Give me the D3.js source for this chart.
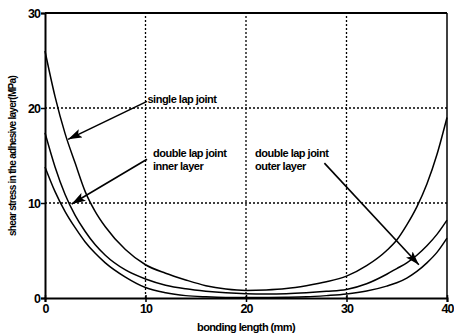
<!DOCTYPE html>
<html>
<head>
<meta charset="utf-8">
<script src="https://cdn.jsdelivr.net/npm/d3@7"></script>
<style>
  body { margin: 0; background: #fff; }
  text { font-family: "Liberation Sans", Arial, sans-serif; fill: #000; }
</style>
</head>
<body>
<div id="chart"></div>
<script>
// bonding length (mm) sample positions
const bondingLength = [0, 1, 2, 3, 4, 5, 6, 8, 10, 12, 14, 16, 18, 20, 22, 24, 26, 28, 30, 32, 34, 35, 36, 37, 38, 39, 40];
// shear stress (MPa)
const singleLap = [26.0, 21.2, 17.3, 14.2, 11.2, 9.1, 7.5, 5.1, 3.5, 2.6, 1.9, 1.3, 0.95, 0.8, 0.85, 1.0, 1.3, 1.7, 2.3, 3.4, 5.0, 6.1, 7.7, 9.6, 12.0, 15.1, 19.0];
const innerLayer = [17.4, 13.8, 10.9, 8.7, 7.0, 5.6, 4.5, 2.95, 2.0, 1.35, 0.97, 0.72, 0.55, 0.45, 0.42, 0.45, 0.55, 0.7, 0.9, 1.5, 2.5, 3.1, 3.7, 4.5, 5.5, 6.7, 8.2];
const outerLayer = [13.8, 11.2, 9.1, 7.4, 5.9, 4.7, 3.7, 2.2, 1.1, 0.55, 0.25, 0.12, 0.05, 0.04, 0.05, 0.07, 0.12, 0.25, 0.42, 0.73, 1.25, 1.6, 2.1, 2.8, 3.7, 4.8, 6.3];

const xTicks = [0, 10, 20, 30, 40];
const yTicks = [0, 10, 20, 30];

// labels + arrows, in data units: [x, y] text anchor, arrow from -> to
const labels = [
  {lines: ["single lap joint"], at: [10.2, 20.5], from: [10.15, 20.7], to: [2.3, 16.7]},
  {lines: ["double lap joint", "inner layer"], at: [10.75, 14.8], from: [10.15, 14.6], to: [2.65, 9.9]},
  {lines: ["double lap joint", "outer layer"], at: [20.9, 14.8], from: [27.8, 14.2], to: [37.2, 3.5]}
];

const width = 454, height = 335;

const svg = d3.select("#chart").append("svg")
  .attr("width", width)
  .attr("height", height);

const x = d3.scaleLinear().domain([0, 40]).range([45, 447]);
const y = d3.scaleLinear().domain([0, 30]).range([298, 13]);

// dotted grid
svg.append("g")
  .selectAll("line")
  .data([10, 20, 30])
  .enter().append("line")
  .attr("x1", d => x(d)).attr("x2", d => x(d))
  .attr("y1", y(0)).attr("y2", y(30))
  .attr("stroke", "#000")
  .attr("stroke-width", 1.3)
  .attr("stroke-dasharray", "2,2");

svg.append("g")
  .selectAll("line")
  .data([10, 20])
  .enter().append("line")
  .attr("x1", x(0)).attr("x2", x(40))
  .attr("y1", d => y(d)).attr("y2", d => y(d))
  .attr("stroke", "#000")
  .attr("stroke-width", 1.3)
  .attr("stroke-dasharray", "2,2");

// axes
const xAxis = d3.axisBottom(x).tickValues(xTicks).tickSize(4).tickPadding(2);
const yAxis = d3.axisLeft(y).tickValues(yTicks).tickSize(4).tickPadding(1);

const gx = svg.append("g")
  .attr("transform", "translate(0," + y(0) + ")")
  .call(xAxis);
const gy = svg.append("g")
  .attr("transform", "translate(" + x(0) + ",0)")
  .call(yAxis);

[gx, gy].forEach(g => {
  g.select(".domain").attr("stroke-width", 2);
  g.selectAll(".tick line").attr("stroke-width", 1.5);
  g.selectAll(".tick text")
    .style("font-size", "12.5px")
    .style("font-weight", "bold")
    .attr("letter-spacing", "-1");
});
gx.selectAll(".tick line").attr("y1", -3);

// top and right frame
svg.append("line")
  .attr("x1", x(0)).attr("x2", x(40))
  .attr("y1", y(30)).attr("y2", y(30))
  .attr("stroke", "#000").attr("stroke-width", 2);
svg.append("line")
  .attr("x1", x(40)).attr("x2", x(40))
  .attr("y1", y(30)).attr("y2", y(0))
  .attr("stroke", "#000").attr("stroke-width", 1.5);

// curves
const line = d3.line()
  .x((d, i) => x(bondingLength[i]))
  .y(d => y(d))
  .curve(d3.curveMonotoneX);

svg.append("g")
  .selectAll("path")
  .data([singleLap, innerLayer, outerLayer])
  .enter().append("path")
  .attr("d", line)
  .attr("fill", "none")
  .attr("stroke", "#000")
  .attr("stroke-width", 1.5);

// arrow head
svg.append("defs").append("marker")
  .attr("id", "head")
  .attr("markerUnits", "userSpaceOnUse")
  .attr("viewBox", "0 0 14 9")
  .attr("refX", 14).attr("refY", 4.5)
  .attr("markerWidth", 14).attr("markerHeight", 9)
  .attr("orient", "auto")
  .append("path")
  .attr("d", "M0,0L14,4.5L0,9L3,4.5Z")
  .attr("fill", "#000");

svg.append("g")
  .selectAll("line")
  .data(labels)
  .enter().append("line")
  .attr("x1", d => x(d.from[0])).attr("y1", d => y(d.from[1]))
  .attr("x2", d => x(d.to[0])).attr("y2", d => y(d.to[1]))
  .attr("stroke", "#000")
  .attr("stroke-width", 1.6)
  .attr("marker-end", "url(#head)");

const lbl = svg.append("g")
  .selectAll("text")
  .data(labels)
  .enter().append("text")
  .attr("x", d => x(d.at[0]))
  .attr("y", d => y(d.at[1]))
  .style("font-size", "11px")
  .style("font-weight", "bold")
  .attr("letter-spacing", "-0.5");

lbl.selectAll("tspan")
  .data(d => d.lines.map(t => ({t: t, x: x(d.at[0])})))
  .enter().append("tspan")
  .attr("x", d => d.x)
  .attr("dy", (d, i) => i ? 13 : 0)
  .text(d => d.t);

// axis titles
svg.append("text")
  .attr("x", (x(0) + x(40)) / 2)
  .attr("y", 331)
  .attr("text-anchor", "middle")
  .style("font-size", "11px")
  .style("font-weight", "bold")
  .attr("letter-spacing", "-0.6")
  .text("bonding length (mm)");

svg.append("text")
  .attr("transform", "translate(16,156) rotate(-90)")
  .attr("text-anchor", "middle")
  .style("font-size", "10px")
  .style("font-weight", "bold")
  .attr("letter-spacing", "-0.7")
  .text("shear stress in the adhesive layer(MPa)");
</script>
</body>
</html>
